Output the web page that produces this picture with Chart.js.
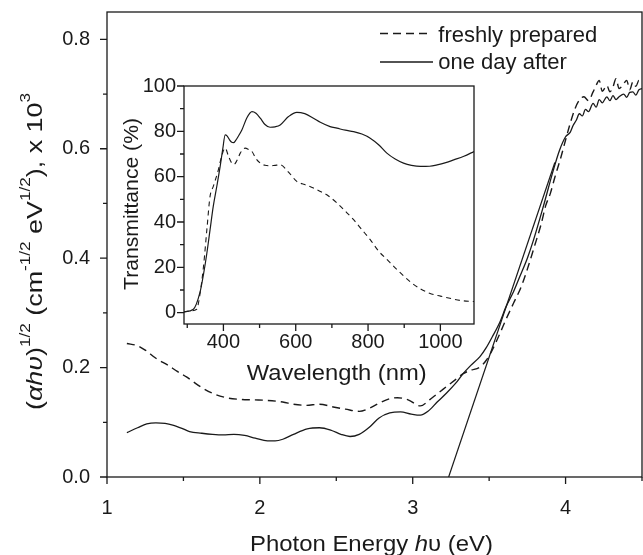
<!DOCTYPE html>
<html><head><meta charset="utf-8">
<script src="https://cdn.jsdelivr.net/npm/chart.js@4"></script>
<style>
html,body{margin:0;padding:0;background:#fff;}
#wrap{position:relative;width:643px;height:555px;overflow:hidden;background:#fff;}
#main{position:absolute;left:0;top:0;}
#inset{position:absolute;left:110px;top:70px;}
</style></head><body>
<div id="wrap">
<canvas id="main" width="643" height="555"></canvas>
<canvas id="inset" width="370" height="320"></canvas>
</div>
<script>
// ---------- main plot data: (alpha h nu)^1/2 vs photon energy ----------
const energy_fresh = [1.13,1.20,1.25,1.32,1.40,1.46,1.52,1.60,1.69,1.78,1.87,1.96,2.05,2.15,2.22,2.30,2.39,2.48,2.56,2.65,2.72,2.78,2.85,2.90,2.97,3.05,3.11,3.16,3.22,3.28,3.33,3.38,3.44,3.48,3.52,3.57,3.61,3.66,3.71,3.75,3.80,3.84,3.87,3.90,3.93,3.97,4.00,4.03,4.06,4.09,4.12,4.15,4.18,4.20,4.22,4.24,4.27,4.29,4.31,4.33,4.35,4.38,4.40,4.42,4.44,4.46,4.48,4.50];
const alpha_fresh = [0.244,0.240,0.232,0.217,0.204,0.193,0.183,0.167,0.153,0.145,0.142,0.141,0.140,0.137,0.133,0.131,0.133,0.128,0.124,0.120,0.126,0.135,0.143,0.145,0.141,0.130,0.141,0.152,0.165,0.178,0.189,0.195,0.201,0.213,0.232,0.262,0.288,0.318,0.348,0.380,0.425,0.462,0.496,0.518,0.548,0.585,0.616,0.646,0.672,0.689,0.695,0.688,0.704,0.716,0.725,0.705,0.716,0.704,0.713,0.728,0.710,0.719,0.725,0.708,0.722,0.714,0.725,0.718];
const energy_day = [1.13,1.20,1.26,1.32,1.38,1.43,1.49,1.54,1.62,1.69,1.76,1.83,1.90,1.97,2.05,2.10,2.15,2.22,2.31,2.39,2.47,2.53,2.59,2.65,2.72,2.78,2.85,2.92,2.99,3.05,3.10,3.16,3.22,3.28,3.33,3.38,3.44,3.48,3.52,3.57,3.61,3.66,3.70,3.75,3.79,3.85,3.92,3.96,4.00,4.03,4.05,4.07,4.09,4.11,4.13,4.15,4.18,4.20,4.22,4.24,4.27,4.29,4.31,4.33,4.35,4.38,4.40,4.42,4.44,4.46,4.48,4.50];
const alpha_day = [0.081,0.090,0.097,0.099,0.098,0.095,0.089,0.083,0.080,0.078,0.077,0.078,0.076,0.071,0.066,0.066,0.069,0.078,0.088,0.090,0.085,0.078,0.074,0.078,0.092,0.108,0.117,0.119,0.115,0.113,0.120,0.137,0.153,0.171,0.189,0.204,0.220,0.236,0.256,0.283,0.311,0.339,0.366,0.400,0.433,0.490,0.561,0.597,0.622,0.630,0.643,0.652,0.664,0.660,0.672,0.668,0.683,0.676,0.690,0.684,0.695,0.688,0.697,0.690,0.695,0.700,0.694,0.703,0.704,0.698,0.708,0.710];
const tangent_energy = [3.235, 3.93];
const tangent_alpha = [0.0, 0.575];

// ---------- inset data: transmittance vs wavelength ----------
const wl_day = [290,317,335,345,354,363,372,382,391,398,405,410,416,422,428,434,440,451,465,479,490,502,515,529,543,557,580,603,625,649,668,695,714,737,760,783,806,830,852,875,898,920,945,970,991,1015,1037,1065,1093];
const T_day = [0.3,1.5,8.8,17,26,36.5,47,56,64.5,72,78.4,78,76.5,75.3,75,76,77.5,80.6,86,88.7,88,85.8,83,81.8,82,82.8,86.5,88.4,87.8,85.8,84,82.1,81.4,80.5,79.9,78.8,77,74,70.4,67.8,66,65,64.5,64.6,65.2,66.2,67.4,69,71.1];
const wl_fresh = [290,310,326,335,345,355,363,372,386,395,405,414,423,430,437,447,460,470,479,490,502,515,529,543,557,580,603,625,649,668,686,714,737,760,783,806,830,852,875,898,920,945,970,1000,1030,1055,1080,1093];
const T_fresh = [0.3,0.8,1.5,8,20.5,38,51.3,55.7,63,69,72.6,69,66,65.5,67,70.5,72.6,72,71.1,68,66,65,64.8,65,65.2,62,57.9,56.5,55,53.5,52,48.4,44.8,41,36.6,32.2,27,23.5,19.8,16.3,13.2,10.5,8.6,7.3,6.2,5.4,5.0,4.9];

// ---------- tick values and labels ----------
const mainXTicks = [1,2,3,4];
const mainXMinor = [1.5,2.5,3.5,4.5];
const mainYTicks = [0.0,0.2,0.4,0.6,0.8];
const mainYMinor = [0.1,0.3,0.5,0.7];
const insetXTicks = [400,600,800,1000];
const insetXMinor = [300,500,700,900];
const insetYTicks = [0,20,40,60,80,100];
const insetYMinor = [10,30,50,70,90];
const legendLabels = ['freshly prepared','one day after'];

const INK = '#1a1a1a';
const FAM = '"Liberation Sans", Arial, sans-serif';

function pts(xs, ys){ return xs.map((x,i)=>({x:x,y:ys[i]})); }

function framePlugin(id, xMaj, xMin, yMaj, yMin){
  return { id:id, afterDraw(chart){
    const ctx=chart.ctx, a=chart.chartArea, xs=chart.scales.x, ys=chart.scales.y;
    ctx.save();
    ctx.strokeStyle=INK; ctx.lineWidth=1.3; ctx.setLineDash([]);
    ctx.strokeRect(a.left, a.top, a.right-a.left, a.bottom-a.top);
    ctx.beginPath();
    const tick=(v,len,horiz)=>{
      if(horiz){ const p=xs.getPixelForValue(v); ctx.moveTo(p,a.bottom); ctx.lineTo(p,a.bottom+len); }
      else { const p=ys.getPixelForValue(v); ctx.moveTo(a.left,p); ctx.lineTo(a.left-len,p); }
    };
    xMaj.forEach(v=>tick(v,7,true)); xMin.forEach(v=>tick(v,4,true));
    yMaj.forEach(v=>tick(v,7,false)); yMin.forEach(v=>tick(v,4,false));
    ctx.stroke();
    ctx.restore();
  }};
}

function fontOf(p, size, supSize){ return (p.it?'italic ':'') + (p.sup?supSize:size) + 'px ' + FAM; }
function drawRich(ctx, parts, x, y, angle, targetLen, size, supSize, raise){
  let w=0;
  parts.forEach(p=>{ ctx.font=fontOf(p,size,supSize); w+=ctx.measureText(p.t).width; });
  const s = targetLen ? targetLen/w : 1;
  ctx.save();
  ctx.translate(x,y); ctx.rotate(angle); ctx.scale(s,1);
  ctx.fillStyle=INK; ctx.textBaseline='alphabetic'; ctx.textAlign='left';
  let cx=0;
  parts.forEach(p=>{ ctx.font=fontOf(p,size,supSize); ctx.fillText(p.t,cx,p.sup?-raise:0); cx+=ctx.measureText(p.t).width; });
  ctx.restore();
}

const textPlugin = { id:'texts', afterDraw(chart){
  const ctx=chart.ctx;
  // main y title
  drawRich(ctx, [
    {t:'('},{t:'\u03B1h\u03C5',it:true},{t:')'},{t:'1/2',sup:true},
    {t:' (cm'},{t:'-1/2',sup:true},{t:' eV'},{t:'1/2',sup:true},
    {t:'), x 10'},{t:'3',sup:true}
  ], 41.5, 410, -Math.PI/2, 317, 22, 14, 12);
  // main x title
  drawRich(ctx, [{t:'Photon Energy '},{t:'h',it:true},{t:'\u03C5 (eV)'}], 250, 550.5, 0, 243, 22, 14, 0);
  // inset titles
  drawRich(ctx, [{t:'Transmittance (%)'}], 137.5, 290, -Math.PI/2, 172, 21, 14, 0);
  drawRich(ctx, [{t:'Wavelength (nm)'}], 246.7, 380, 0, 180, 22, 14, 0);
  // legend
  ctx.save();
  ctx.strokeStyle=INK; ctx.lineWidth=1.4;
  ctx.setLineDash([8,5]);
  ctx.beginPath(); ctx.moveTo(380,33.5); ctx.lineTo(427,33.5); ctx.stroke();
  ctx.setLineDash([]);
  ctx.beginPath(); ctx.moveTo(380,62); ctx.lineTo(433,62); ctx.stroke();
  ctx.fillStyle=INK; ctx.font='22px '+FAM; ctx.textBaseline='alphabetic';
  ctx.fillText(legendLabels[0], 438.3, 41.5);
  ctx.fillText(legendLabels[1], 438.3, 68.5);
  ctx.restore();
}};

const tickFont = {family:FAM, size:20};
function fixX(h){ return ax=>{ ax.height=h; ax.paddingLeft=0; ax.paddingRight=0; ax.paddingTop=0; ax.paddingBottom=0; }; }
function fixY(w){ return ax=>{ ax.width=w; ax.paddingTop=0; ax.paddingBottom=0; ax.paddingLeft=0; ax.paddingRight=0; }; }

new Chart(document.getElementById('main'), {
  type:'line',
  data:{ datasets:[
    { label:legendLabels[0], data:pts(energy_fresh,alpha_fresh), borderColor:INK, borderWidth:1.4, borderDash:[8,5], pointRadius:0, fill:false, cubicInterpolationMode:'monotone' },
    { label:legendLabels[1], data:pts(energy_day,alpha_day), borderColor:INK, borderWidth:1.3, pointRadius:0, fill:false, cubicInterpolationMode:'monotone' },
    { label:'tangent', data:pts(tangent_energy,tangent_alpha), borderColor:INK, borderWidth:1.2, pointRadius:0, fill:false, tension:0 }
  ]},
  options:{
    responsive:false, animation:false, devicePixelRatio:1,
    layout:{ padding:{ left:0, right:1, top:12, bottom:0 } },
    plugins:{ legend:{display:false}, tooltip:{enabled:false} },
    scales:{
      x:{ type:'linear', min:1, max:4.5,
        afterBuildTicks:ax=>{ ax.ticks = mainXTicks.map(v=>({value:v})); },
        afterFit:fixX(78),
        grid:{display:false, drawTicks:false}, border:{display:false},
        ticks:{ padding:19, font:tickFont, color:INK, maxRotation:0, autoSkip:false, callback:v=>String(v) } },
      y:{ type:'linear', min:0, max:0.85,
        afterBuildTicks:ax=>{ ax.ticks = mainYTicks.map(v=>({value:v})); },
        afterFit:fixY(107),
        grid:{display:false, drawTicks:false}, border:{display:false},
        ticks:{ padding:17, font:tickFont, color:INK, autoSkip:false, callback:v=>Number(v).toFixed(1) } }
    }
  },
  plugins:[ framePlugin('mainFrame', mainXTicks, mainXMinor, mainYTicks, mainYMinor), textPlugin ]
});

new Chart(document.getElementById('inset'), {
  type:'line',
  data:{ datasets:[
    { label:legendLabels[0], data:pts(wl_fresh,T_fresh), borderColor:INK, borderWidth:1.1, borderDash:[5,4], pointRadius:0, fill:false, cubicInterpolationMode:'monotone' },
    { label:legendLabels[1], data:pts(wl_day,T_day), borderColor:INK, borderWidth:1.2, pointRadius:0, fill:false, cubicInterpolationMode:'monotone' }
  ]},
  options:{
    responsive:false, animation:false, devicePixelRatio:1,
    layout:{ padding:{ left:0, right:6, top:16, bottom:0 } },
    plugins:{ legend:{display:false}, tooltip:{enabled:false} },
    scales:{
      x:{ type:'linear', min:291, max:1093,
        afterBuildTicks:ax=>{ ax.ticks = insetXTicks.map(v=>({value:v})); },
        afterFit:fixX(66),
        grid:{display:false, drawTicks:false}, border:{display:false},
        ticks:{ padding:6, font:tickFont, color:INK, maxRotation:0, autoSkip:false, callback:v=>String(v) } },
      y:{ type:'linear', min:-5, max:100,
        afterBuildTicks:ax=>{ ax.ticks = insetYTicks.map(v=>({value:v})); },
        afterFit:fixY(74),
        grid:{display:false, drawTicks:false}, border:{display:false},
        ticks:{ padding:8, font:tickFont, color:INK, autoSkip:false, callback:v=>String(v) } }
    }
  },
  plugins:[ framePlugin('insetFrame', insetXTicks, insetXMinor, insetYTicks, insetYMinor) ]
});
</script>
</body></html>
